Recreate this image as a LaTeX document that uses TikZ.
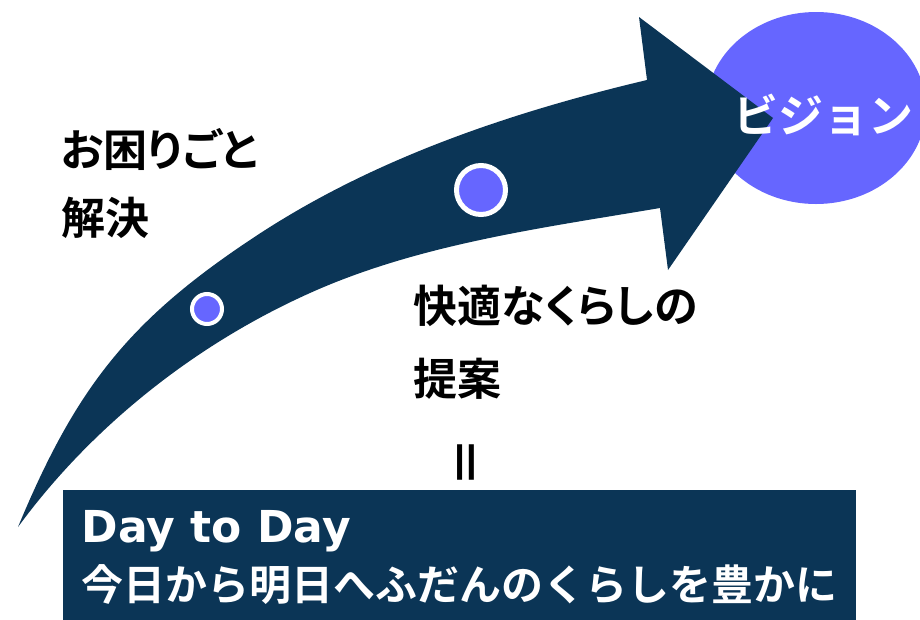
\documentclass[tikz,border=0pt]{standalone}
\usepackage{fontspec}
\usepackage{xcolor}
\usepackage{tikz}
\usetikzlibrary{shapes.geometric}

\newfontfamily\jpfont{Noto Sans CJK JP Bold}[RawFeature=+palt]
\newfontfamily\jpwide{Noto Sans CJK JP Bold}
\newfontfamily\latinfont{DejaVu Sans Bold}

\definecolor{navy}{HTML}{0B3556}
\definecolor{vision}{HTML}{6666FF}

\tikzset{
	dot/.style={shape=circle, fill=vision, draw=white, inner sep=0pt},
	jptext/.style={font=\jpfont\fontsize{44}{70}\selectfont, align=left, inner sep=0pt}
}

\begin{document}
\begin{tikzpicture}[x=1pt, y=-1pt]
		\useasboundingbox (0,0) rectangle (920,619);

		\node[shape=ellipse, fill=vision, minimum width=220pt, minimum height=192pt, inner sep=0pt] (v1) at (816,108) {};

		\fill[navy] (18,527) .. controls (75,390) and (127,322) .. (250,240)
			.. controls (369,160) and (508,113) .. (647,80)
			-- (639,17) -- (773,118) -- (668,270) -- (660,208)
			.. controls (542,228) and (419,244) .. (310,293)
			.. controls (196,344) and (92,426) .. (18,527) -- cycle;

		\node[dot, minimum size=30pt, line width=4pt] (c1) at (207,309) {};
		\node[dot, minimum size=49pt, line width=5pt] (c2) at (481,190) {};

		\node[jptext, anchor=north west, font=\jpfont\fontsize{44}{68}\selectfont] (t1) at (61,128) {お困りごと\\解決};
		\node[jptext, anchor=north west, font=\jpfont\fontsize{44}{73}\selectfont] (t2) at (413,285) {快適なくらしの\\提案};
		\node[jptext, rotate=90, font=\jpwide\fontsize{50}{50}\selectfont] (eq) at (472,462) {＝};

		\node[font=\jpwide\fontsize{45}{54}\selectfont, text=white, inner sep=0pt] (v2) at (823,115) {ビジョン};

		\node[fill=navy, text=white, anchor=north west, minimum width=793pt, minimum height=135pt, inner sep=0pt, align=left, font=\jpwide\fontsize{42}{58}\selectfont] (d1) at (63,490) {{\latinfont\fontsize{44}{58}\selectfont Day to Day}\\今日から明日へふだんのくらしを豊かに};
		\end{tikzpicture}
\end{document}
